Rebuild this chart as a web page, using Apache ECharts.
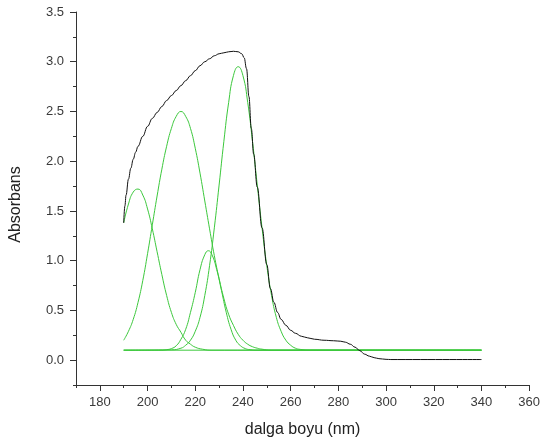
<!DOCTYPE html>
<html>
<head>
<meta charset="utf-8">
<script src="https://cdn.jsdelivr.net/npm/echarts@6/dist/echarts.min.js"></script>
<style>
html,body{margin:0;padding:0;background:#fff;}
#chart{width:543px;height:448px;}
</style>
</head>
<body>
<div id="chart"></div>
<script>
// Tick labels / tick positions
const xMajorTicks = [180, 200, 220, 240, 260, 280, 300, 320, 340, 360];
const xMinorTicks = [170, 190, 210, 230, 250, 270, 290, 310, 330, 350];
const yMajorTicks = [0, 0.5, 1.0, 1.5, 2.0, 2.5, 3.0, 3.5];
const yMinorTicks = [-0.25, 0.25, 0.75, 1.25, 1.75, 2.25, 2.75, 3.25];

// Measured spectrum (black)
const spectrumX = [190,190.5,191,192,193,194,195,196,198,200,202,204,206,208,210,212,214,216,218,220,222,224,226,228,230,232,234,236,238,239.5,240.5,241.5,242.5,243.5,244.5,246,248,250,251.5,253,254.5,256,258,260,262,264.5,267,270,274,278,281,283,285,287,289,291,293,295,297,300,302,340];
const spectrumY = [1.38,1.55,1.66,1.82,1.93,2.02,2.09,2.15,2.25,2.35,2.43,2.49,2.55,2.61,2.66,2.71,2.76,2.81,2.86,2.91,2.96,3.00,3.03,3.06,3.08,3.09,3.10,3.105,3.10,3.08,3.04,2.93,2.65,2.33,2.07,1.74,1.33,0.96,0.72,0.58,0.48,0.41,0.35,0.30,0.27,0.24,0.225,0.21,0.20,0.195,0.19,0.18,0.16,0.13,0.095,0.06,0.04,0.025,0.015,0.008,0.006,0.006];

// Fitted components (green)
const peak1X = [190,192,194,196,198,200,202,204,206,208,210,212,214,216,218,220,223,227,340];
const peak1Y = [1.38,1.57,1.69,1.72,1.66,1.52,1.32,1.09,0.86,0.65,0.48,0.36,0.28,0.20,0.16,0.13,0.11,0.10,0.10];

const peak2X = [190,192,194,196,198,200,202,204,206,208,210,212,214,216,218,220,222,224,226,228,230,232,234,236,238,240,242,244,246,248,252,340];
const peak2Y = [0.20,0.29,0.41,0.58,0.80,1.07,1.36,1.65,1.92,2.15,2.33,2.45,2.50,2.45,2.33,2.13,1.88,1.60,1.32,1.05,0.82,0.62,0.46,0.35,0.26,0.20,0.16,0.135,0.12,0.11,0.10,0.10];

const peak3X = [190,206,208,210,212,214,216,218,220,222,224,225.5,227,229,231,233,235,237,239,241,243,246,340];
const peak3Y = [0.10,0.10,0.105,0.116,0.144,0.21,0.31,0.48,0.68,0.91,1.06,1.10,1.06,0.91,0.70,0.48,0.31,0.20,0.144,0.116,0.105,0.10,0.10];

const peak4X = [190,210,214,216,218,220,222,224,226,228,230,232,234,236,238,240,242,244,246,248,250,252,254,256,258,260,262,264,268,340];
const peak4Y = [0.10,0.104,0.12,0.15,0.20,0.29,0.43,0.65,0.95,1.33,1.76,2.20,2.59,2.86,2.95,2.86,2.59,2.20,1.76,1.33,0.95,0.65,0.43,0.29,0.20,0.15,0.12,0.108,0.10,0.10];

const baselineX = [190, 340];
const baselineY = [0.1, 0.1];

function pairs(xs, ys) { return xs.map((x, i) => [x, ys[i]]); }

const green = '#3cc83c';
const font = 'Liberation Sans, Arial, sans-serif';

function lineSeries(name, xs, ys, color, z, smooth, mono) {
  const s = {
    name: name, type: 'line', data: pairs(xs, ys), showSymbol: false, symbol: 'none',
    smooth: smooth,
    lineStyle: { color: color, width: 1 }, z: z, silent: true
  };
  if (mono) s.smoothMonotone = 'x';
  return s;
}

const chart = echarts.init(document.getElementById('chart'), null, { renderer: 'canvas' });
chart.setOption({
  animation: false,
  backgroundColor: '#ffffff',
  grid: { left: 76, right: 11, top: 12, bottom: 63, containLabel: false },
  xAxis: [
    {
      type: 'value', min: 170, max: 360, position: 'bottom',
      name: 'dalga boyu (nm)', nameLocation: 'middle', nameGap: 37,
      nameTextStyle: { fontFamily: font, fontSize: 16, color: '#222' },
      axisLine: { show: true, onZero: false, lineStyle: { color: '#333', width: 1 } },
      axisTick: { show: true, inside: false, length: 6, customValues: xMajorTicks, lineStyle: { color: '#333', width: 1 } },
      axisLabel: { show: true, customValues: xMajorTicks, margin: 11, fontFamily: font, fontSize: 13, color: '#3a3a3a' },
      splitLine: { show: false }
    },
    {
      type: 'value', min: 170, max: 360, position: 'bottom',
      axisLine: { show: false, onZero: false },
      axisTick: { show: true, inside: false, length: 3, customValues: xMinorTicks, lineStyle: { color: '#333', width: 1 } },
      axisLabel: { show: false },
      splitLine: { show: false }
    }
  ],
  yAxis: [
    {
      type: 'value', min: -0.25, max: 3.5, position: 'left',
      name: 'Absorbans', nameLocation: 'middle', nameGap: 52, nameRotate: 90,
      nameTextStyle: { fontFamily: font, fontSize: 16, color: '#222', padding: [0, 0, 0, -12] },
      axisLine: { show: true, onZero: false, lineStyle: { color: '#333', width: 1 } },
      axisTick: { show: true, inside: false, length: 6, customValues: yMajorTicks, lineStyle: { color: '#333', width: 1 } },
      axisLabel: { show: true, customValues: yMajorTicks, margin: 12, fontFamily: font, fontSize: 13, color: '#3a3a3a',
        formatter: v => Number(v).toFixed(1) },
      splitLine: { show: false }
    },
    {
      type: 'value', min: -0.25, max: 3.5, position: 'left',
      axisLine: { show: false, onZero: false },
      axisTick: { show: true, inside: false, length: 3, customValues: yMinorTicks, lineStyle: { color: '#333', width: 1 } },
      axisLabel: { show: false },
      splitLine: { show: false }
    }
  ],
  series: [
    lineSeries('baseline', baselineX, baselineY, green, 2, false, false),
    lineSeries('peak1', peak1X, peak1Y, green, 3, 0.5, false),
    lineSeries('peak2', peak2X, peak2Y, green, 3, 0.5, false),
    lineSeries('peak3', peak3X, peak3Y, green, 3, 0.5, false),
    lineSeries('peak4', peak4X, peak4Y, green, 3, 0.5, false),
    lineSeries('spectrum', spectrumX, spectrumY, '#111', 4, 0.4, true)
  ]
});
</script>
</body>
</html>
